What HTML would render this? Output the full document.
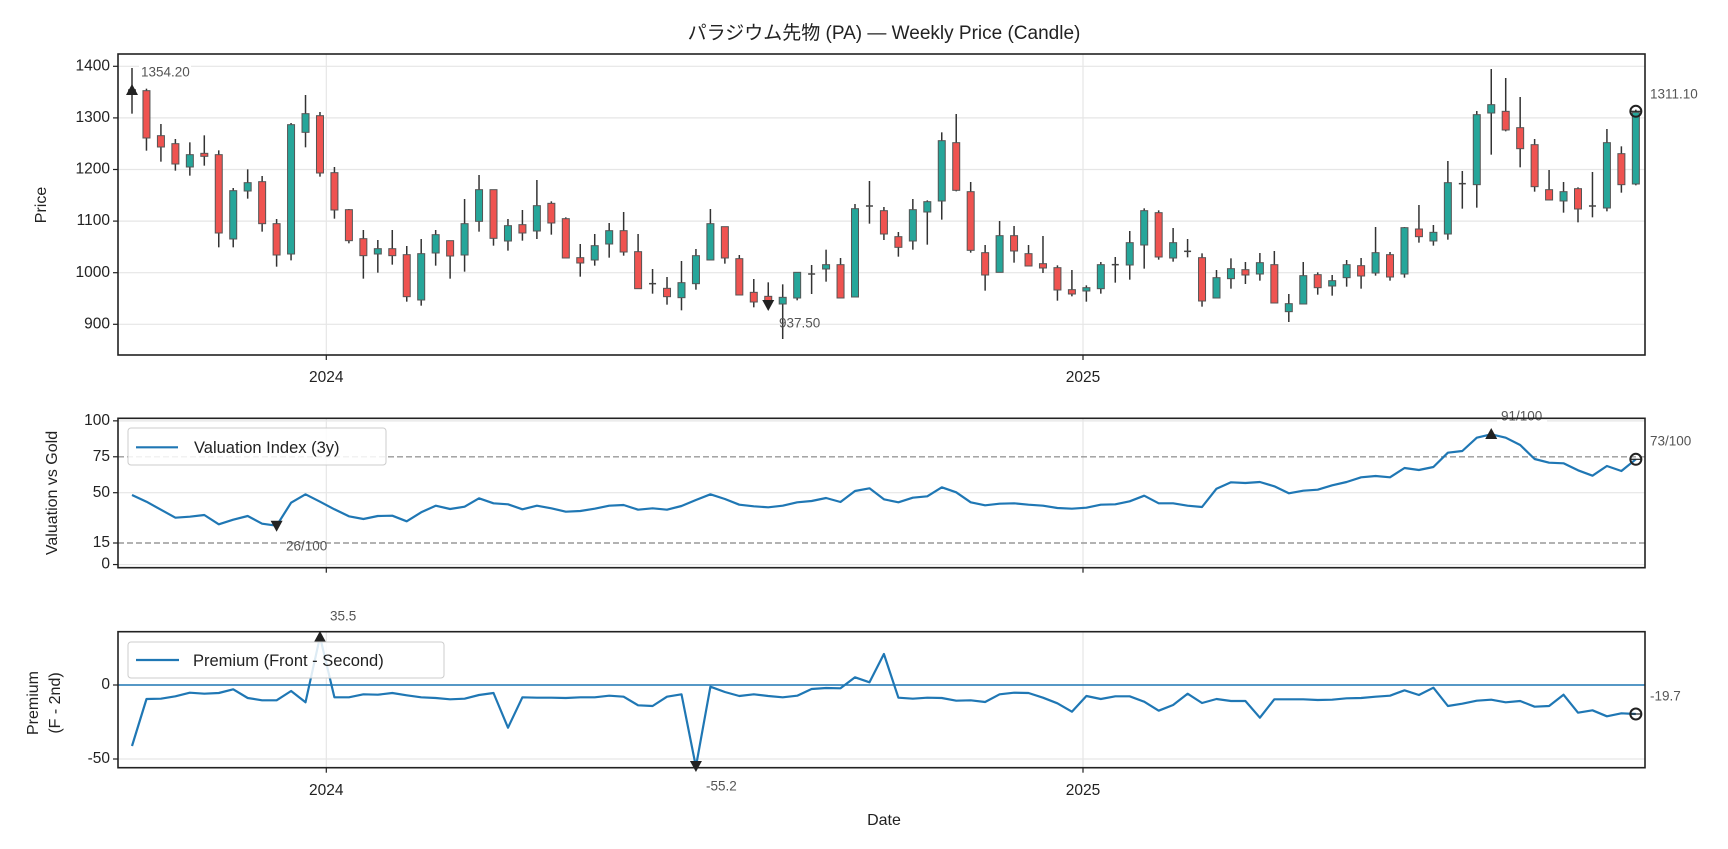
<!DOCTYPE html>
<html><head><meta charset="utf-8"><style>
html,body{margin:0;padding:0;background:#fff;}
svg{display:block;font-family:"Liberation Sans","Noto Sans CJK JP",sans-serif;}
</style></head><body>
<svg id="s" width="1728" height="849" viewBox="0 0 1728 849" xmlns="http://www.w3.org/2000/svg"></svg>
<script>
const C=[['g',125,131,60,197],['r',128,270,122,308],['r',263,297,228,341],['r',287,348,273,368],['g',320,357,283,383],['r',316,325,262,353],['r',320,555,307,598],['g',428,573,420,598],['g',404,429,364,452],['r',401,527,384,551],['r',527,621,513,656],['g',230,618,225,637],['g',197,253,141,298],['r',203,375,192,386],['r',374,486,357,512],['r',485,578,483,586],['r',572,623,546,692],['g',602,618,576,674],['r',602,623,546,650],['r',620,746,594,761],['g',617,756,573,773],['g',560,615,546,653],['r',578,624,578,692],
['g',527,621,453,671],['g',425,520,381,551],['r',425,571,425,593],['g',533,579,513,608],['r',530,555,486,578],['g',473,549,396,573],['r',466,525,460,560],['r',512,630,508,630],['r',629,645,588,686],['g',593,636,558,653],['g',548,588,525,629],['r',548,612,492,623],['r',611,722,558,722],['d',707,710,663,737],['r',721,746,687,770],['g',704,749,639,787],['g',623,707,603,725],['g',527,636,483,636],['r',536,630,536,647],['r',632,741,621,741],['r',733,762,693,778],
['r',745,760,703,770],['g',748,768,709,873],['g',673,750,673,757],['d',678,681,651,738],['g',650,663,605,701],['r',650,750,630,750],['g',482,747,468,747],['d',474,477,399,527],['r',488,558,477,576],['r',566,598,552,626],['g',485,579,453,605],['g',461,492,457,590],['g',278,459,253,515],['r',284,427,198,430],['r',431,607,402,614],['r',614,681,591,728],['g',563,673,519,673],['r',563,609,534,644],['r',617,654,591,654],['r',647,660,564,675],['r',659,726,652,758],['r',725,738,666,745],['g',719,729,712,761],['g',650,722,642,737],['d',650,653,627,704],['g',584,651,549,695],
['g',488,591,481,662],['r',494,627,487,635],['g',584,630,540,641],['d',610,614,573,628],['r',629,759,616,776],['g',689,750,666,750],['g',662,692,631,722],['r',665,681,642,708],['g',644,678,615,698],['r',650,765,609,765],
['g',767,791,738,822],['g',683,768,642,768],['r',680,719,673,740],['g',698,714,681,743],['g',650,689,636,716],['r',653,684,630,722],['g',614,675,537,683],['r',620,687,612,698],['g',539,678,537,689],['r',543,566,471,584],
['g',553,579,531,593],['g',404,558,339,575],['d',407,410,369,482],['g',200,410,189,479],['g',170,195,63,320],['r',190,246,90,250],['r',239,302,147,358],['r',290,416,273,431],['r',425,456,366,456],['g',431,459,402,494],
['r',422,483,418,523],['d',474,476,372,508],['g',284,480,243,490],['r',317,410,295,434],['g',193,408,185,412]];
const V=[270,290,314,338,335,330,358,344,333,356,362,293,268,290,313,334,342,333,332,349,322,302,312,305,280,295,298,313,302,310,320,318,311,302,300,314,310,314,303,285,268,282,299,304,307,302,292,288,279,291,258,250,283,292,
278,274,247,262,292,301,296,295,299,302,309,311,308,299,298,289,272,295,295,302,306,251,232,234,231,244,265,257,254,241,231,217,213,217,189,195,186,143,138,98,88,98,120,162,173,175,196,212,183,198,163];
const P=[468,327,326,319,308,311,309,298,324,331,331,303,337,140,322,322,313,314,309,316,322,324,328,326,315,309,413,322,323,323,324,322,322,317,320,346,348,320,313,530,290,306,318,313,318,322,317,297,294,295,262,277,192,
323,326,323,324,332,331,336,313,308,309,323,340,365,318,327,319,319,335,362,345,311,339,327,333,333,383,328,328,328,330,329,325,324,320,317,301,315,293,348,341,332,329,337,333,350,348,314,368,361,379,370,372];
const X=i=>132+i*14.46;
const L=118,R=1645;
const T1=54,B1=355,T2=418.3,B2=567.7,T3=631.7,B3=767.7;
const py=v=>66.3+(1400-v)*0.516, vy=v=>492.7-(v-50)*1.437, qy=v=>685-v*1.48;
let h='';
const txt=(x,y,t,o)=>`<text x="${x}" y="${y}" ${o||''}>${t}</text>`;
// grids
function vgrid(t,b){for(const x of [326.3,1083])h+=`<line x1="${x}" y1="${t}" x2="${x}" y2="${b}" stroke="#e6e6e6" stroke-width="1.2"/>`;}
vgrid(T1,B1);vgrid(T2,B2);vgrid(T3,B3);
for(let v=900;v<=1400;v+=100)h+=`<line x1="${L}" y1="${py(v)}" x2="${R}" y2="${py(v)}" stroke="#e6e6e6" stroke-width="1.2"/>`;
for(const v of [0,50,100])h+=`<line x1="${L}" y1="${vy(v)}" x2="${R}" y2="${vy(v)}" stroke="#e6e6e6" stroke-width="1.2"/>`;
for(const v of [15,75])h+=`<line x1="${L}" y1="${vy(v)}" x2="${R}" y2="${vy(v)}" stroke="#999" stroke-width="1.4" stroke-dasharray="6,3"/>`;
for(const v of [-50])h+=`<line x1="${L}" y1="${qy(v)}" x2="${R}" y2="${qy(v)}" stroke="#e6e6e6" stroke-width="1.2"/>`;
h+=`<line x1="${L}" y1="${qy(0)}" x2="${R}" y2="${qy(0)}" stroke="#1f77b4" stroke-width="1.5"/>`;
// candles
C.forEach((c,i)=>{const x=X(i),f=z=>48+z/3;
 h+=`<line x1="${x}" y1="${f(c[3])}" x2="${x}" y2="${f(c[4])}" stroke="#333" stroke-width="1.5"/>`;
 let t=f(c[1]),b=f(c[2]);
 if(c[0]=='d'){h+=`<line x1="${x-3.5}" y1="${t}" x2="${x+3.5}" y2="${t}" stroke="#444" stroke-width="1.5"/>`;}
 else h+=`<rect x="${x-3.5}" y="${t}" width="7" height="${Math.max(b-t,1)}" fill="${c[0]=='r'?'#ef5350':'#26a69a'}" stroke="#555" stroke-width="1"/>`;
});
// lines
h+=`<polyline fill="none" stroke="#1f77b4" stroke-width="2.2" stroke-linejoin="round" points="${V.map((z,i)=>X(i).toFixed(1)+','+(405+z/3).toFixed(1)).join(' ')}"/>`;
h+=`<polyline fill="none" stroke="#1f77b4" stroke-width="2.2" stroke-linejoin="round" points="${P.map((z,i)=>X(i).toFixed(1)+','+(590+z/3).toFixed(1)).join(' ')}"/>`;
// markers
const up=(x,y)=>`<path d="M${x-6},${y+5} L${x+6},${y+5} L${x},${y-6} Z" fill="#222"/>`;
const dn=(x,y)=>`<path d="M${x-6},${y-5} L${x+6},${y-5} L${x},${y+6} Z" fill="#222"/>`;
const ci=(x,y)=>`<circle cx="${x}" cy="${y}" r="5.5" fill="none" stroke="#222" stroke-width="2"/><line x1="${x-5}" y1="${y}" x2="${x+5}" y2="${y}" stroke="#222" stroke-width="1.2"/>`;
h+=up(132,90)+dn(X(44),305)+ci(X(104),111.3);
h+=dn(X(10),525.7)+up(X(94),434)+ci(X(104),459.3);
h+=up(X(13),637)+dn(X(39),766)+ci(X(104),714);
// annotation labels
const an=(x,y,t,a)=>`<text x="${x}" y="${y}" font-size="13.5" fill="#555" dominant-baseline="middle" ${a||''}>${t}</text>`;
h+=`<rect x="139" y="63" width="52" height="18" fill="#fff"/>`+an(141,73,'1354.20');
h+=an(779,324,'937.50');
h+=an(1650,95,'1311.10');
h+=an(286,547,'26/100');
h+=`<rect x="1497" y="408" width="50" height="18" fill="#fff"/>`+an(1501,417,'91/100');
h+=an(1650,442,'73/100');
h+=an(330,617,'35.5');
h+=an(706,787,'-55.2');
h+=an(1650,697,'-19.7');
// legends
h+=`<rect x="128" y="428" width="258" height="37" rx="3" fill="#fff" fill-opacity="0.85" stroke="#ccc"/><line x1="136" y1="447.3" x2="178" y2="447.3" stroke="#1f77b4" stroke-width="2.2"/>`+txt(194,453,'Valuation Index (3y)','font-size="16.5" fill="#222"');
h+=`<rect x="128" y="642" width="316" height="36" rx="3" fill="#fff" fill-opacity="0.85" stroke="#ccc"/><line x1="136" y1="660" x2="179" y2="660" stroke="#1f77b4" stroke-width="2.2"/>`+txt(193,666,'Premium (Front - Second)','font-size="16.5" fill="#222"');
// axes frames
for(const [t,b] of [[T1,B1],[T2,B2],[T3,B3]])h+=`<rect x="${L}" y="${t}" width="${R-L}" height="${b-t}" fill="none" stroke="#222" stroke-width="1.6"/>`;
// y ticks
const yt=(y,t)=>{h+=`<line x1="${L-5}" y1="${y}" x2="${L}" y2="${y}" stroke="#222" stroke-width="1.2"/>`+txt(L-8,y,t,'font-size="15.5" fill="#222" text-anchor="end" dominant-baseline="middle"');};
for(let v=900;v<=1400;v+=100)yt(py(v),v);
for(const v of [0,15,50,75,100])yt(vy(v),v);
for(const v of [0,-50])yt(qy(v),v);
// x ticks
for(const [t,b,lab] of [[T1,B1,1],[T2,B2,0],[T3,B3,1]])for(const [x,s] of [[326.3,'2024'],[1083,'2025']]){h+=`<line x1="${x}" y1="${b}" x2="${x}" y2="${b+5}" stroke="#222" stroke-width="1.2"/>`;if(lab)h+=txt(x,b+23,s,'font-size="15.5" fill="#222" text-anchor="middle" dominant-baseline="middle"');}
// axis labels
h+=txt(884,34,'パラジウム先物 (PA) — Weekly Price (Candle)','font-size="19" fill="#222" text-anchor="middle" dominant-baseline="middle"');
h+=txt(884,821,'Date','font-size="16" fill="#222" text-anchor="middle" dominant-baseline="middle"');
h+=`<text transform="translate(42,205) rotate(-90)" font-size="16" fill="#222" text-anchor="middle" dominant-baseline="middle">Price</text>`;
h+=`<text transform="translate(53,493) rotate(-90)" font-size="16" fill="#222" text-anchor="middle" dominant-baseline="middle">Valuation vs Gold</text>`;
h+=`<text transform="translate(34,703) rotate(-90)" font-size="16" fill="#222" text-anchor="middle" dominant-baseline="middle">Premium</text>`;
h+=`<text transform="translate(56,703) rotate(-90)" font-size="16" fill="#222" text-anchor="middle" dominant-baseline="middle">(F - 2nd)</text>`;
document.getElementById('s').innerHTML=h;
</script>
</body></html>
